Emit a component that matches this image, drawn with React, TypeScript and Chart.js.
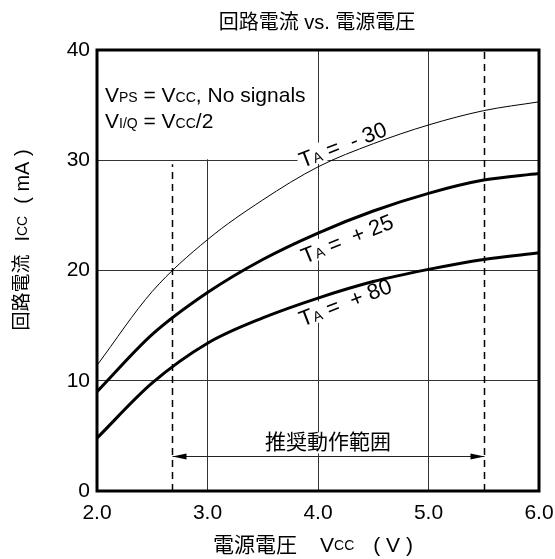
import React, { useEffect, useRef } from 'react';
import { Chart, registerables } from 'chart.js';

Chart.register(...registerables);

// ---- data ----
const vcc = [2.0, 2.5, 3.0, 3.5, 4.0, 4.5, 5.0, 5.5, 6.0];
const iccMinus30 = [11.4, 18.1, 22.8, 26.4, 29.4, 31.5, 33.2, 34.5, 35.3];
const iccPlus25 = [9.0, 14.2, 18.0, 21.0, 23.4, 25.4, 27.0, 28.2, 28.8];
const iccPlus80 = [4.8, 9.8, 13.4, 15.7, 17.5, 19.0, 20.1, 21.0, 21.6];
const xTickValues = [2, 3, 4, 5, 6];
const xTickLabels = ['2.0', '3.0', '4.0', '5.0', '6.0'];
const yTickValues = [0, 10, 20, 30, 40];
const yTickLabels = ['0', '10', '20', '30', '40'];
const rangeLow = 2.68;
const rangeHigh = 5.5;
const rangeArrowIcc = 3.2;
const tempLabels = ['- 30', '+ 25', '+ 80'];

const FONT = '"Liberation Sans", Arial, "Noto Sans CJK JP", sans-serif';
type Seg = [string, number] | number;

function segsWidth(ctx: CanvasRenderingContext2D, segs: Seg[]) {
  let w = 0;
  for (const s of segs) {
    if (typeof s === 'number') { w += s; continue; }
    ctx.font = `${s[1]}px ${FONT}`;
    w += ctx.measureText(s[0]).width;
  }
  return w;
}
function drawSegs(ctx: CanvasRenderingContext2D, segs: Seg[], x: number, y: number) {
  let cx = x;
  for (const s of segs) {
    if (typeof s === 'number') { cx += s; continue; }
    ctx.font = `${s[1]}px ${FONT}`;
    ctx.fillText(s[0], cx, y);
    cx += ctx.measureText(s[0]).width;
  }
}

const overlay = {
  id: 'overlay',
  beforeDatasetsDraw(chart: any) {
    const ctx: CanvasRenderingContext2D = chart.ctx;
    const { left, right, top, bottom } = chart.chartArea;
    const xs = chart.scales.x;
    const ys = chart.scales.y;
    ctx.save();
    // white box behind conditions text
    ctx.fillStyle = '#fff';
    ctx.fillRect(left, top, xs.getPixelForValue(3.98) - left, ys.getPixelForValue(30) - 1 - top);

    // dashed range lines
    ctx.strokeStyle = '#000';
    ctx.lineWidth = 1.5;
    ctx.setLineDash([7, 5]);
    const xl = Math.round(xs.getPixelForValue(rangeLow)) + 0.5;
    const xr = Math.round(xs.getPixelForValue(rangeHigh)) + 0.5;
    ctx.beginPath();
    ctx.moveTo(xl, bottom);
    ctx.lineTo(xl, ys.getPixelForValue(30) + 4);
    ctx.moveTo(xr, bottom);
    ctx.lineTo(xr, top);
    ctx.stroke();
    ctx.setLineDash([]);

    // arrow
    const ay = Math.round(ys.getPixelForValue(rangeArrowIcc)) + 0.5;
    ctx.strokeStyle = '#222';
    ctx.lineWidth = 1;
    ctx.beginPath();
    ctx.moveTo(xl, ay);
    ctx.lineTo(xr, ay);
    ctx.stroke();
    ctx.fillStyle = '#000';
    ctx.beginPath();
    ctx.moveTo(xl, ay); ctx.lineTo(xl + 14, ay - 3); ctx.lineTo(xl + 14, ay + 3); ctx.closePath();
    ctx.fill();
    ctx.beginPath();
    ctx.moveTo(xr, ay); ctx.lineTo(xr - 14, ay - 3); ctx.lineTo(xr - 14, ay + 3); ctx.closePath();
    ctx.fill();

    // range text with white bg
    const rt = '推奨動作範囲';
    ctx.font = `21px ${FONT}`;
    const rw = ctx.measureText(rt).width;
    const rcx = xs.getPixelForValue(4.09);
    const rcy = ay - 13;
    ctx.fillStyle = '#fff';
    ctx.fillRect(rcx - rw / 2 - 2, rcy - 11, rw + 4, 21);
    ctx.fillStyle = '#000';
    ctx.textAlign = 'center';
    ctx.textBaseline = 'middle';
    ctx.fillText(rt, rcx, rcy);

    // temperature labels
    ctx.textAlign = 'left';
    ctx.textBaseline = 'alphabetic';
    const anchors: [number, number, number][] = [
      [3.86, 29.3, -21],
      [3.88, 20.6, -22],
      [3.86, 14.9, -21],
    ];
    anchors.forEach(([ax, ayv, rot], i) => {
      const segs: Seg[] = [['T', 22], ['A', 14], [' =  ' + tempLabels[i], 22]];
      const px = xs.getPixelForValue(ax);
      const py = ys.getPixelForValue(ayv);
      ctx.save();
      ctx.translate(px, py);
      ctx.rotate((rot * Math.PI) / 180);
      const w = segsWidth(ctx, segs);
      ctx.fillStyle = '#fff';
      ctx.fillRect(-2, -18, w + 4, 20);
      ctx.fillStyle = '#000';
      drawSegs(ctx, segs, 0, 0);
      ctx.restore();
    });

    // conditions text
    ctx.fillStyle = '#000';
    drawSegs(ctx, [['V', 21], ['PS', 14], [' = V', 21], ['CC', 14], [', No signals', 21]], left + 8, top + 52);
    drawSegs(ctx, [['V', 21], ['I/Q', 14], [' = V', 21], ['CC', 14], ['/2', 21]], left + 8, top + 78);
    ctx.restore();
  },
  afterDatasetsDraw(chart: any) {
    const ctx: CanvasRenderingContext2D = chart.ctx;
    const { left, right, top, bottom } = chart.chartArea;
    ctx.save();
    ctx.strokeStyle = '#000';
    ctx.lineWidth = 3;
    ctx.strokeRect(left, top, right - left, bottom - top);
    ctx.restore();
  },
  afterDraw(chart: any) {
    const ctx: CanvasRenderingContext2D = chart.ctx;
    const { left, right } = chart.chartArea;
    ctx.save();
    ctx.fillStyle = '#000';
    ctx.textBaseline = 'middle';
    ctx.textAlign = 'left';
    // title
    const tSegs: Seg[] = [['回路電流 vs. 電源電圧', 20]];
    const tw = segsWidth(ctx, tSegs);
    drawSegs(ctx, tSegs, (left + right) / 2 - tw / 2 - 1, 23);
    // x title
    const xSegs: Seg[] = [['電源電圧', 21], 23, ['V', 21], ['CC', 14], 19, ['( V )', 21]];
    const xw = segsWidth(ctx, xSegs);
    drawSegs(ctx, xSegs, 313 - xw / 2, 546);
    // y title
    const ySegs: Seg[] = [['回路電流', 19], 13, ['I', 20], ['CC', 14], 12, ['( mA )', 20]];
    const yw = segsWidth(ctx, ySegs);
    ctx.translate(23, 240);
    ctx.rotate(-Math.PI / 2);
    drawSegs(ctx, ySegs, -yw / 2, 0);
    ctx.restore();
  },
};

function toPoints(ys: number[]) {
  return vcc.map((x, i) => ({ x, y: ys[i] }));
}

export default function App() {
  const ref = useRef<HTMLCanvasElement | null>(null);
  useEffect(() => {
    if (!ref.current) return;
    const chart = new Chart(ref.current, {
      type: 'line',
      data: {
        datasets: [
          { label: 'TA = -30', data: toPoints(iccMinus30), borderColor: '#000', borderWidth: 1, pointRadius: 0, cubicInterpolationMode: 'monotone', fill: false },
          { label: 'TA = +25', data: toPoints(iccPlus25), borderColor: '#000', borderWidth: 3, pointRadius: 0, cubicInterpolationMode: 'monotone', fill: false },
          { label: 'TA = +80', data: toPoints(iccPlus80), borderColor: '#000', borderWidth: 3, pointRadius: 0, cubicInterpolationMode: 'monotone', fill: false },
        ],
      },
      options: {
        animation: false,
        responsive: true,
        maintainAspectRatio: false,
        layout: { padding: { top: 50, right: 16, left: 0, bottom: 0 } },
        plugins: { legend: { display: false }, tooltip: { enabled: false }, title: { display: false } },
        scales: {
          x: {
            type: 'linear',
            min: 2,
            max: 6,
            afterBuildTicks: (s: any) => { s.ticks = xTickValues.map((v) => ({ value: v })); },
            afterFit: (s: any) => { s.height = 68; s.paddingLeft = 0; s.paddingRight = 0; },
            ticks: {
              padding: 10,
              color: '#000',
              font: { size: 21, family: FONT },
              maxRotation: 0,
              callback: (v: any) => xTickLabels[xTickValues.indexOf(Number(v))] ?? '',
            },
            grid: { color: '#333', lineWidth: 1, drawTicks: false },
            border: { display: false },
          },
          y: {
            type: 'linear',
            min: 0,
            max: 40,
            afterBuildTicks: (s: any) => { s.ticks = yTickValues.map((v) => ({ value: v })); },
            afterFit: (s: any) => { s.width = 97; s.paddingTop = 0; s.paddingBottom = 0; },
            ticks: {
              padding: 7,
              color: '#000',
              font: { size: 21, family: FONT },
              callback: (v: any) => yTickLabels[yTickValues.indexOf(Number(v))] ?? '',
            },
            grid: { color: '#333', lineWidth: 1, drawTicks: false },
            border: { display: false },
          },
        },
      },
      plugins: [overlay],
    } as any);
    return () => chart.destroy();
  }, []);
  return (
    <div style={{ position: 'fixed', left: 0, top: 0, width: 555, height: 559, background: '#fff' }}>
      <canvas ref={ref} />
    </div>
  );
}
